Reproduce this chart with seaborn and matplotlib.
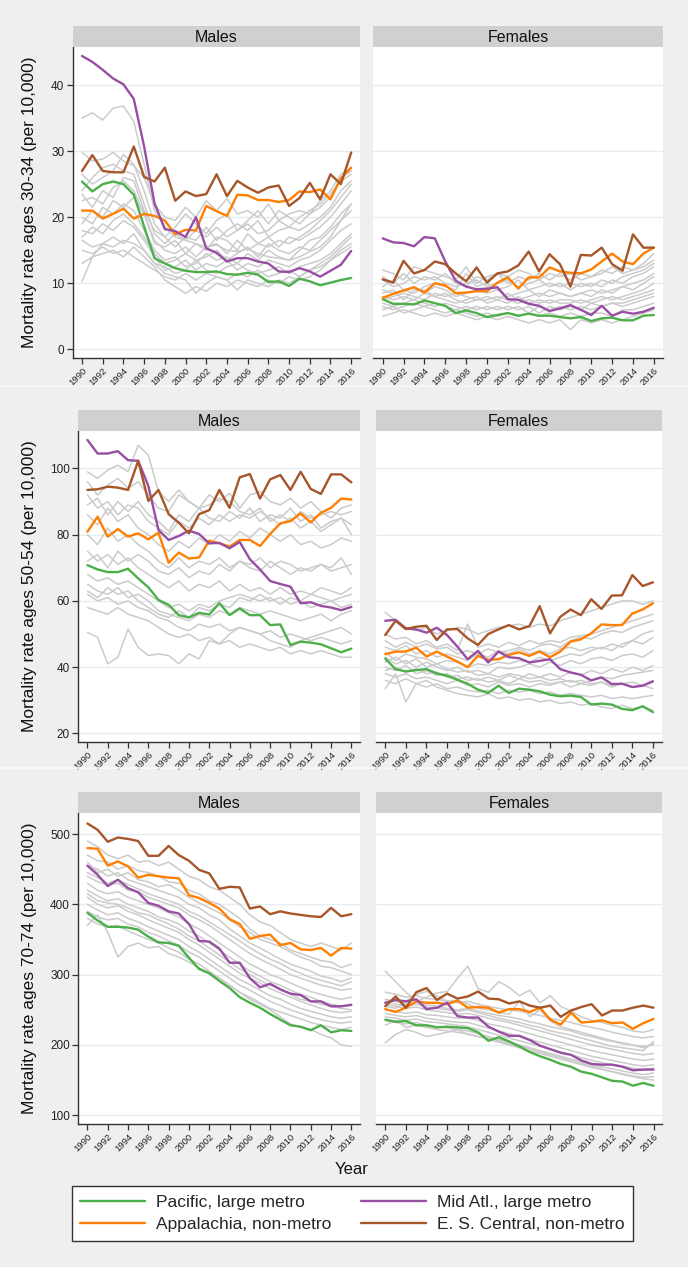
import numpy as np
import pandas as pd
import matplotlib
matplotlib.use("Agg")
import matplotlib.pyplot as plt
from matplotlib.lines import Line2D
import seaborn as sns

# === Data ===
years = list(range(1990, 2017))
regions = ["Pacific, large metro", "Appalachia, non-metro",
           "Mid Atl., large metro", "E. S. Central, non-metro"]
colors = ["#4daf4a", "#ff7f00", "#984ea3", "#a65628"]

# ages 30-34, males
m30_pacific = [25.4, 23.9, 25.0, 25.4, 25.0, 23.4, 18.6, 13.8, 13.0, 12.3, 11.9, 11.7, 11.7, 11.8, 11.4, 11.3, 11.6, 11.3, 10.2, 10.3, 9.6, 10.7, 10.3, 9.7, 10.1, 10.5, 10.8]
m30_appal = [21.0, 21.0, 19.8, 20.5, 21.3, 19.8, 20.5, 20.2, 19.5, 17.4, 18.1, 18.0, 21.7, 20.9, 20.2, 23.4, 23.3, 22.6, 22.6, 22.3, 22.6, 23.9, 23.8, 24.2, 22.7, 25.9, 27.5]
m30_midatl = [44.4, 43.5, 42.3, 41.0, 40.1, 37.9, 30.7, 22.1, 18.2, 17.9, 17.0, 20.0, 15.3, 14.6, 13.3, 13.8, 13.8, 13.3, 13.0, 11.8, 11.7, 12.3, 11.8, 11.0, 11.9, 12.8, 14.9]
m30_escent = [27.0, 29.4, 27.0, 26.8, 26.8, 30.7, 26.1, 25.4, 27.5, 22.5, 23.9, 23.2, 23.5, 26.5, 23.2, 25.5, 24.5, 23.7, 24.5, 24.8, 21.7, 22.9, 25.2, 22.7, 26.5, 25.0, 29.8]
m30_other = [
    [35.0, 35.8, 34.7, 36.5, 36.8, 34.5, 28.0, 21.0, 18.5, 17.0, 16.5, 16.0, 15.5, 15.8, 15.0, 14.8, 15.2, 14.5, 14.0, 13.8, 13.5, 14.0, 14.8, 15.5, 17.0, 19.5, 22.0],
    [29.8, 28.5, 28.8, 29.8, 28.5, 27.8, 26.0, 22.0, 20.0, 19.5, 21.5, 20.0, 22.5, 21.0, 22.8, 20.5, 21.0, 20.0, 22.0, 19.5, 20.5, 21.0, 20.5, 22.5, 24.0, 26.5, 27.5],
    [24.0, 26.0, 27.5, 28.0, 27.0, 26.5, 22.0, 17.5, 16.0, 17.5, 16.5, 18.0, 17.0, 18.5, 17.0, 18.0, 19.0, 17.5, 18.0, 19.5, 18.5, 20.0, 21.0, 22.0, 23.5, 25.5, 26.5],
    [22.5, 23.0, 22.0, 24.5, 25.5, 24.0, 20.5, 16.5, 15.0, 14.5, 15.5, 14.0, 15.5, 16.0, 14.5, 16.5, 15.0, 16.0, 15.5, 16.5, 16.0, 17.0, 18.0, 19.5, 21.0, 23.0, 25.0],
    [20.0, 19.0, 21.5, 20.5, 22.0, 21.0, 18.0, 15.0, 13.5, 14.0, 12.5, 13.0, 14.5, 13.5, 14.0, 13.0, 14.5, 13.5, 15.0, 14.0, 13.5, 15.0, 16.5, 17.0, 18.5, 20.5, 22.0],
    [18.0, 17.5, 19.0, 18.0, 19.5, 18.5, 16.5, 14.0, 12.0, 12.5, 13.5, 12.0, 13.0, 12.5, 13.5, 12.0, 13.0, 12.5, 13.5, 13.0, 12.5, 13.5, 14.0, 15.0, 16.5, 18.0, 19.0],
    [16.5, 15.5, 16.0, 17.0, 16.0, 17.5, 15.0, 13.0, 12.5, 11.5, 12.0, 13.5, 12.0, 11.5, 12.5, 13.0, 12.0, 11.5, 12.0, 12.5, 11.5, 12.5, 13.0, 13.5, 14.5, 16.0, 17.5],
    [15.0, 14.5, 15.5, 14.5, 15.0, 14.0, 13.0, 12.0, 11.0, 10.5, 11.5, 10.5, 11.5, 11.0, 10.5, 11.5, 11.0, 12.0, 11.0, 11.5, 12.0, 11.0, 12.0, 12.5, 13.5, 15.0, 16.0],
    [13.0, 14.0, 14.5, 15.0, 14.0, 15.5, 14.0, 12.5, 10.5, 9.5, 8.5, 9.5, 8.8, 10.0, 9.5, 10.5, 10.0, 9.5, 10.5, 10.0, 11.0, 10.5, 11.0, 12.0, 13.5, 14.5, 15.5],
    [10.3, 14.0, 16.0, 15.5, 16.5, 16.0, 15.0, 13.0, 11.5, 11.0, 10.5, 8.5, 10.0, 11.0, 10.5, 9.0, 10.5, 10.0, 9.5, 10.5, 10.0, 11.0, 12.0, 13.0, 14.0, 15.5, 17.0],
    [26.5, 25.0, 26.0, 27.0, 29.5, 28.0, 24.0, 19.0, 17.0, 18.5, 20.5, 19.0, 17.5, 19.5, 20.5, 18.0, 19.5, 21.0, 19.0, 21.0, 20.0, 19.0, 20.5, 21.5, 23.0, 26.0, 27.0],
    [19.0, 21.0, 20.0, 22.5, 21.5, 23.0, 20.5, 16.0, 15.5, 16.5, 14.5, 16.0, 15.0, 17.0, 16.5, 15.0, 17.5, 16.0, 17.0, 15.5, 17.0, 16.5, 17.5, 18.5, 20.0, 22.0, 24.0],
    [17.0, 18.5, 17.5, 19.5, 20.5, 19.0, 17.0, 14.5, 13.0, 13.5, 14.5, 13.5, 14.0, 15.0, 13.5, 14.5, 15.5, 14.0, 16.0, 15.0, 14.5, 15.5, 15.0, 16.5, 18.0, 19.5, 21.0],
    [23.5, 21.5, 24.0, 23.0, 26.0, 25.5, 21.0, 18.0, 17.0, 15.5, 17.0, 16.5, 18.5, 16.5, 18.0, 19.0, 18.0, 19.5, 17.0, 18.0, 18.5, 18.0, 19.0, 20.0, 21.5, 24.0, 25.5],
]

# ages 30-34, females
f30_pacific = [7.6, 6.9, 6.9, 6.8, 7.4, 7.0, 6.6, 5.5, 5.9, 5.5, 4.9, 5.2, 5.5, 5.1, 5.4, 5.1, 5.1, 4.9, 4.7, 4.9, 4.3, 4.7, 4.8, 4.4, 4.4, 5.1, 5.2]
f30_appal = [7.8, 8.4, 8.9, 9.4, 8.6, 10.0, 9.7, 8.5, 8.6, 8.8, 8.8, 10.1, 10.9, 9.2, 10.9, 10.9, 12.4, 11.8, 11.6, 11.5, 12.1, 13.3, 14.5, 13.3, 12.9, 14.5, 15.4]
f30_midatl = [16.8, 16.2, 16.1, 15.6, 17.0, 16.8, 13.3, 10.4, 9.5, 9.1, 9.2, 9.4, 7.6, 7.5, 6.9, 6.6, 5.8, 6.2, 6.7, 6.0, 5.2, 6.6, 5.1, 5.7, 5.4, 5.7, 6.3]
f30_escent = [10.6, 10.1, 13.4, 11.5, 12.0, 13.3, 12.9, 11.5, 10.3, 12.4, 10.1, 11.5, 11.8, 12.7, 14.8, 11.8, 14.4, 12.9, 9.5, 14.3, 14.2, 15.4, 12.9, 11.9, 17.4, 15.4, 15.4]
f30_other = [
    [12.0, 11.5, 10.5, 12.5, 12.0, 11.5, 11.0, 10.5, 12.5, 10.0, 11.0, 11.5, 11.0, 12.0, 11.5, 10.5, 11.5, 11.0, 11.5, 10.5, 11.0, 12.0, 11.5, 12.5, 12.0, 13.0, 14.5],
    [10.5, 9.5, 10.0, 11.0, 10.5, 11.0, 10.0, 9.5, 10.0, 10.5, 9.5, 10.0, 10.5, 9.5, 10.0, 10.5, 9.5, 10.0, 9.0, 10.0, 9.5, 10.5, 10.0, 11.0, 11.5, 12.0, 13.0],
    [9.0, 8.5, 9.0, 9.5, 8.5, 9.5, 9.0, 8.0, 8.5, 9.0, 8.5, 9.0, 8.0, 8.5, 9.0, 8.0, 9.0, 8.5, 8.0, 8.5, 9.0, 8.5, 9.0, 9.5, 10.0, 10.5, 11.5],
    [8.0, 7.5, 8.0, 7.5, 8.5, 8.0, 7.5, 7.0, 7.5, 8.0, 7.0, 7.5, 7.0, 8.0, 7.0, 7.5, 7.0, 7.5, 7.5, 7.0, 7.5, 8.0, 7.5, 8.0, 8.5, 9.0, 10.0],
    [7.0, 6.5, 7.0, 7.5, 7.0, 6.5, 7.0, 6.5, 6.0, 6.5, 6.0, 6.5, 6.0, 6.5, 5.5, 6.5, 6.0, 6.5, 6.0, 6.5, 6.0, 6.5, 7.0, 7.0, 7.5, 8.0, 8.5],
    [6.0, 6.5, 5.5, 6.0, 6.5, 6.0, 5.5, 6.0, 5.5, 5.0, 5.5, 5.0, 5.5, 5.0, 5.5, 5.0, 5.5, 5.0, 5.5, 5.0, 5.5, 5.5, 5.0, 6.0, 6.0, 6.5, 7.0],
    [5.0, 5.5, 6.0, 5.5, 5.0, 5.5, 5.0, 5.5, 5.0, 4.5, 5.0, 4.5, 5.0, 4.5, 4.0, 4.5, 4.0, 4.5, 3.0, 4.5, 4.0, 4.5, 4.0, 4.5, 5.0, 5.5, 6.0],
    [9.5, 10.5, 9.0, 8.5, 9.5, 10.0, 9.5, 9.0, 11.5, 9.5, 10.0, 9.0, 9.5, 10.5, 9.0, 9.5, 10.0, 9.5, 10.0, 9.5, 10.0, 9.5, 10.5, 10.0, 11.0, 11.5, 12.5],
    [7.5, 8.0, 8.5, 8.0, 7.5, 8.5, 8.0, 8.5, 8.0, 7.5, 8.0, 7.5, 8.5, 7.5, 8.0, 8.5, 8.0, 8.5, 8.0, 8.5, 8.0, 9.0, 8.5, 9.5, 9.0, 10.0, 11.0],
    [6.5, 6.0, 6.5, 7.0, 6.5, 7.0, 6.5, 6.0, 6.5, 6.0, 6.5, 6.0, 6.5, 6.0, 6.5, 5.5, 6.5, 6.0, 6.5, 6.0, 7.0, 6.5, 7.0, 6.5, 7.0, 7.5, 8.0],
    [11.0, 10.0, 11.5, 10.0, 11.0, 10.5, 11.5, 10.0, 9.5, 11.0, 10.5, 11.5, 10.0, 11.0, 10.5, 11.5, 10.5, 11.5, 10.5, 11.5, 11.0, 11.5, 12.5, 11.5, 12.0, 12.5, 13.5],
    [8.5, 9.0, 7.5, 9.0, 9.0, 8.0, 8.5, 7.5, 7.0, 7.5, 7.5, 8.0, 7.5, 7.0, 7.5, 7.0, 7.5, 7.0, 7.0, 7.5, 7.0, 7.5, 8.0, 7.5, 8.0, 8.5, 9.0],
]

# ages 50-54, males
m50_pacific = [70.8, 69.5, 68.7, 68.7, 69.7, 66.8, 64.1, 60.3, 58.8, 55.7, 55.0, 56.4, 55.9, 59.3, 55.7, 57.7, 55.7, 55.7, 52.7, 52.9, 46.7, 47.7, 47.4, 46.9, 45.7, 44.5, 45.6]
m50_appal = [80.9, 85.4, 79.4, 81.7, 79.4, 80.4, 78.6, 80.6, 71.5, 74.6, 72.8, 73.1, 78.2, 77.4, 76.4, 78.4, 78.4, 76.6, 80.2, 83.4, 84.1, 86.4, 83.7, 86.6, 88.1, 90.9, 90.6]
m50_midatl = [108.6, 104.5, 104.5, 105.2, 102.5, 102.3, 94.7, 81.4, 78.4, 79.6, 81.2, 80.2, 77.4, 77.5, 75.9, 77.8, 72.6, 69.5, 66.0, 65.1, 64.3, 59.3, 59.6, 58.5, 58.0, 57.2, 58.2]
m50_escent = [93.5, 93.7, 94.5, 94.2, 93.5, 102.3, 90.2, 93.5, 86.2, 83.6, 80.4, 86.2, 87.4, 93.5, 88.1, 97.3, 98.3, 90.9, 96.7, 98.0, 93.5, 99.0, 93.8, 92.3, 98.2, 98.2, 95.8]
m50_other = [
    [99.0, 97.0, 99.5, 101.0, 99.0, 107.0, 104.0, 93.0, 90.0, 93.5, 90.0, 88.0, 92.0, 90.0, 92.5, 88.0, 92.0, 93.0, 90.0, 89.0, 91.0, 88.0, 90.0, 87.0, 85.0, 88.0, 89.0],
    [92.0, 88.0, 90.0, 86.0, 89.0, 88.0, 84.0, 82.0, 80.0, 84.0, 82.0, 85.0, 83.0, 86.0, 84.0, 86.0, 85.0, 87.0, 85.0, 83.0, 85.0, 82.0, 84.0, 81.0, 83.0, 85.0, 80.0],
    [86.0, 83.0, 88.0, 84.0, 86.0, 82.0, 80.0, 77.0, 75.0, 78.0, 76.0, 79.0, 77.0, 80.0, 78.0, 81.0, 79.0, 82.0, 80.0, 78.0, 80.0, 77.0, 78.0, 76.0, 77.0, 79.0, 78.0],
    [80.0, 77.0, 82.0, 78.0, 80.0, 77.0, 75.0, 72.0, 70.0, 73.0, 70.0, 72.0, 71.0, 73.0, 70.0, 72.0, 71.0, 73.0, 70.0, 72.0, 71.0, 69.0, 70.0, 71.0, 69.0, 70.0, 71.0],
    [75.0, 72.0, 74.0, 71.0, 73.0, 70.0, 68.0, 66.0, 64.0, 66.0, 63.0, 65.0, 64.0, 66.0, 63.0, 65.0, 63.0, 64.0, 62.0, 64.0, 62.0, 63.0, 62.0, 64.0, 63.0, 62.0, 64.0],
    [68.0, 66.0, 67.0, 65.0, 66.0, 64.0, 62.0, 60.0, 58.0, 59.0, 57.0, 59.0, 58.0, 60.0, 61.0, 62.0, 61.0, 60.0, 61.0, 59.0, 61.0, 60.0, 62.0, 61.0, 60.0, 61.0, 62.0],
    [65.0, 63.0, 62.0, 64.0, 61.0, 62.0, 60.0, 57.0, 56.0, 55.0, 54.0, 56.0, 55.0, 57.0, 56.0, 58.0, 57.0, 56.0, 57.0, 56.0, 55.0, 54.0, 55.0, 56.0, 54.0, 56.0, 57.0],
    [62.0, 60.0, 61.0, 59.0, 60.0, 58.0, 57.0, 55.0, 54.0, 52.0, 51.0, 53.0, 52.0, 53.0, 51.0, 52.0, 51.0, 50.0, 51.0, 49.0, 50.0, 49.0, 48.0, 49.0, 48.0, 47.0, 48.0],
    [58.0, 57.0, 56.0, 58.0, 56.0, 55.0, 54.0, 52.0, 50.0, 49.0, 50.0, 48.0, 49.0, 47.0, 48.0, 46.0, 47.0, 46.0, 45.0, 46.0, 44.0, 45.0, 44.0, 45.0, 44.0, 43.0, 43.0],
    [50.5, 49.0, 41.0, 43.0, 51.5, 46.0, 43.5, 44.0, 43.5, 41.0, 44.0, 42.5, 48.0, 47.0, 50.0, 52.0, 51.0, 50.0, 48.0, 47.0, 46.0, 48.0, 49.0, 50.0, 51.0, 52.0, 50.0],
    [96.0, 92.0, 95.0, 97.0, 94.0, 96.0, 92.0, 88.0, 87.0, 92.0, 90.0, 88.0, 89.0, 91.0, 90.0, 87.0, 86.0, 88.0, 84.0, 86.0, 84.0, 87.0, 85.0, 86.0, 87.0, 86.0, 87.0],
    [72.0, 74.0, 70.0, 75.0, 72.0, 74.0, 72.0, 69.0, 68.0, 70.0, 67.0, 69.0, 68.0, 71.0, 69.0, 72.0, 70.0, 69.0, 72.0, 70.0, 68.0, 70.0, 69.0, 71.0, 70.0, 73.0, 68.0],
    [89.0, 91.0, 86.0, 90.0, 87.0, 90.0, 86.0, 84.0, 81.0, 86.0, 84.0, 88.0, 85.0, 84.0, 87.0, 85.0, 88.0, 84.0, 86.0, 85.0, 88.0, 84.0, 86.0, 82.0, 84.0, 85.0, 83.0],
    [63.0, 61.0, 64.0, 62.0, 63.0, 60.0, 58.0, 56.0, 55.0, 57.0, 55.0, 58.0, 57.0, 59.0, 58.0, 61.0, 60.0, 62.0, 60.0, 61.0, 59.0, 60.0, 58.0, 59.0, 60.0, 58.0, 59.0],
]

# ages 50-54, females
f50_pacific = [42.6, 39.4, 38.7, 39.1, 39.4, 38.1, 37.4, 36.2, 35.0, 33.2, 32.2, 34.4, 32.2, 33.5, 33.2, 32.7, 31.7, 31.2, 31.4, 31.0, 28.7, 29.0, 28.7, 27.4, 27.0, 28.2, 26.4]
f50_appal = [43.9, 44.7, 44.7, 45.9, 43.2, 44.7, 43.2, 41.7, 40.0, 43.4, 42.2, 42.4, 43.7, 44.5, 43.4, 44.7, 43.0, 44.7, 47.7, 48.4, 50.2, 52.9, 52.7, 52.7, 56.2, 57.4, 59.3]
f50_midatl = [54.0, 54.3, 51.7, 51.4, 50.4, 51.9, 49.7, 46.2, 42.4, 44.9, 41.4, 44.7, 43.0, 42.7, 41.4, 41.9, 42.4, 39.4, 38.4, 37.7, 36.0, 36.9, 34.9, 35.0, 34.0, 34.4, 35.7]
f50_escent = [49.7, 54.0, 51.5, 52.2, 52.5, 48.2, 51.4, 51.5, 48.7, 46.7, 50.0, 51.4, 52.7, 51.4, 52.4, 58.4, 50.2, 55.2, 57.4, 55.7, 60.5, 57.6, 61.6, 61.7, 67.8, 64.5, 65.6]
f50_other = [
    [56.5, 54.0, 52.0, 51.0, 52.0, 50.0, 51.0, 52.0, 51.5, 50.0, 51.0, 52.0, 52.5, 53.0, 52.0, 53.0, 52.5, 54.0, 55.0, 56.0, 57.0, 58.0, 59.0, 60.0, 60.0, 59.0, 60.0],
    [50.0, 48.5, 49.0, 47.0, 48.0, 46.0, 47.0, 45.0, 53.0, 46.0, 47.0, 46.0, 47.5, 46.5, 48.0, 47.0, 48.0, 47.5, 49.0, 49.5, 50.0, 51.0, 52.0, 53.0, 54.0, 55.0, 56.0],
    [46.0, 45.0, 46.5, 44.0, 45.0, 43.0, 44.0, 43.0, 42.0, 44.0, 43.0, 45.0, 44.0, 45.5, 44.0, 45.0, 44.0, 45.5, 46.0, 45.0, 46.0, 45.5, 47.0, 46.0, 48.0, 47.0, 49.0],
    [43.0, 41.0, 42.0, 40.0, 41.5, 40.0, 39.0, 40.0, 38.5, 39.0, 38.0, 40.0, 39.5, 40.0, 41.0, 40.0, 41.5, 40.5, 42.0, 41.0, 42.5, 43.0, 42.0, 43.5, 44.0, 43.0, 45.0],
    [40.0, 39.0, 40.5, 38.0, 39.0, 37.5, 38.0, 36.5, 37.0, 36.0, 37.0, 36.0, 37.5, 36.5, 38.0, 37.0, 38.0, 37.0, 38.5, 37.5, 39.0, 38.0, 39.5, 38.5, 40.0, 39.0, 40.5],
    [38.0, 37.0, 38.0, 36.5, 37.0, 36.0, 35.0, 36.0, 34.5, 35.0, 34.0, 35.5, 34.5, 35.0, 34.0, 35.0, 34.5, 35.5, 34.0, 35.0, 34.5, 35.5, 34.0, 35.0, 35.5, 34.5, 36.0],
    [36.0, 35.0, 36.5, 35.0, 34.0, 35.0, 33.5, 34.0, 33.0, 32.5, 33.0, 32.0, 33.0, 32.5, 33.0, 32.0, 32.5, 31.5, 32.0, 31.5, 31.0, 31.5, 30.5, 31.0, 30.5, 31.0, 31.5],
    [33.5, 38.0, 29.5, 35.0, 36.0, 34.0, 33.0, 32.0, 31.5, 31.0, 32.0, 30.5, 31.0, 30.0, 30.5, 29.5, 30.0, 29.0, 29.5, 28.5, 29.0, 28.0, 27.5, 28.5, 27.5, 28.0, 27.0],
    [41.5, 43.0, 41.0, 42.5, 40.0, 41.0, 39.5, 38.5, 39.0, 37.5, 38.0, 37.0, 38.0, 37.5, 36.5, 37.0, 36.0, 36.5, 35.5, 36.0, 35.0, 35.5, 34.5, 35.0, 34.0, 34.5, 33.5],
    [44.5, 42.0, 44.0, 43.0, 42.5, 41.0, 42.0, 41.5, 40.0, 41.0, 40.5, 41.5, 41.0, 42.0, 41.5, 43.0, 42.0, 43.0, 44.0, 43.5, 45.0, 46.0, 45.0, 47.0, 48.0, 50.0, 51.0],
    [39.0, 40.0, 38.5, 39.5, 38.0, 38.5, 37.0, 37.5, 36.0, 36.5, 35.5, 36.0, 35.0, 36.5, 35.5, 36.0, 35.0, 35.5, 36.0, 35.0, 36.0, 37.0, 36.5, 37.5, 38.0, 38.5, 39.0],
    [48.0, 46.0, 47.5, 46.0, 47.0, 45.5, 46.0, 44.0, 45.0, 44.0, 45.5, 44.5, 45.0, 46.0, 45.0, 46.5, 47.0, 46.0, 48.0, 49.0, 48.5, 50.0, 51.0, 50.5, 52.0, 53.0, 54.0],
]

# ages 70-74, males
m70_pacific = [388, 377, 368, 368, 367, 364, 354, 346, 345, 341, 324, 308, 302, 291, 281, 268, 260, 253, 244, 236, 228, 226, 221, 228, 218, 221, 220]
m70_appal = [480, 479, 455, 461, 454, 438, 442, 440, 438, 437, 413, 409, 402, 394, 379, 372, 351, 355, 357, 342, 345, 336, 335, 338, 327, 338, 337]
m70_midatl = [455, 442, 426, 435, 423, 417, 402, 398, 390, 387, 372, 348, 347, 337, 317, 317, 295, 282, 287, 279, 273, 271, 262, 262, 255, 255, 257]
m70_escent = [515, 506, 489, 495, 493, 490, 469, 469, 483, 470, 462, 449, 444, 422, 425, 424, 394, 397, 386, 390, 387, 385, 383, 382, 395, 383, 386]
m70_other = [
    [490, 482, 470, 465, 470, 460, 462, 455, 460, 450, 440, 435, 425, 420, 410, 400, 385, 375, 370, 360, 350, 345, 340, 345, 340, 335, 345],
    [470, 462, 460, 450, 455, 448, 445, 440, 432, 430, 420, 415, 405, 400, 390, 380, 365, 355, 350, 345, 335, 330, 325, 320, 318, 310, 315],
    [455, 450, 440, 445, 435, 430, 425, 420, 415, 410, 400, 395, 385, 378, 365, 355, 345, 338, 330, 322, 315, 310, 305, 298, 295, 290, 295],
    [440, 432, 428, 430, 420, 418, 410, 405, 400, 395, 385, 378, 370, 360, 350, 340, 330, 322, 315, 308, 300, 295, 290, 285, 282, 278, 280],
    [430, 420, 415, 418, 410, 405, 400, 395, 388, 382, 372, 365, 355, 345, 335, 325, 315, 308, 300, 295, 288, 282, 276, 272, 268, 265, 268],
    [420, 412, 405, 408, 400, 395, 390, 382, 378, 372, 362, 355, 345, 335, 325, 315, 305, 298, 290, 285, 278, 272, 268, 262, 258, 255, 258],
    [410, 400, 395, 398, 390, 385, 378, 372, 366, 360, 350, 342, 332, 322, 312, 302, 295, 288, 280, 274, 268, 262, 257, 252, 248, 246, 248],
    [400, 392, 385, 388, 380, 375, 368, 362, 356, 350, 340, 332, 322, 312, 302, 293, 286, 278, 270, 265, 258, 252, 248, 244, 240, 238, 240],
    [390, 382, 378, 380, 372, 368, 360, 355, 348, 342, 332, 325, 315, 305, 295, 285, 278, 270, 262, 256, 250, 245, 240, 236, 233, 231, 233],
    [370, 385, 360, 325, 340, 345, 338, 340, 330, 325, 318, 310, 302, 295, 285, 275, 265, 258, 250, 240, 230, 225, 222, 215, 210, 200, 198],
    [380, 372, 368, 370, 362, 356, 350, 345, 338, 332, 322, 315, 305, 295, 285, 275, 268, 260, 252, 247, 242, 237, 232, 228, 225, 222, 225],
    [460, 445, 450, 440, 445, 435, 432, 425, 428, 420, 410, 402, 395, 388, 378, 368, 360, 350, 345, 340, 332, 325, 320, 312, 310, 305, 300],
    [445, 438, 430, 435, 428, 422, 415, 410, 405, 400, 390, 384, 375, 366, 357, 348, 338, 330, 322, 316, 308, 302, 296, 292, 288, 284, 290],
    [415, 405, 402, 400, 395, 388, 385, 378, 372, 365, 355, 348, 338, 328, 318, 308, 300, 292, 285, 280, 272, 265, 262, 258, 255, 252, 250],
]

# ages 70-74, females
f70_pacific = [236, 233, 234, 228, 228, 225, 226, 225, 224, 218, 206, 211, 205, 198, 190, 184, 179, 173, 169, 162, 159, 154, 149, 148, 142, 146, 142]
f70_appal = [251, 247, 253, 262, 260, 260, 258, 263, 253, 254, 253, 246, 251, 251, 247, 253, 236, 229, 246, 232, 233, 235, 231, 232, 223, 231, 237]
f70_midatl = [260, 264, 262, 265, 251, 253, 260, 241, 239, 239, 226, 219, 213, 213, 207, 199, 194, 189, 186, 178, 173, 172, 172, 169, 164, 165, 165]
f70_escent = [255, 269, 253, 275, 281, 264, 273, 266, 269, 276, 266, 265, 259, 262, 256, 253, 256, 240, 249, 254, 258, 242, 249, 249, 253, 256, 253]
f70_other = [
    [305, 290, 275, 262, 268, 274, 276, 295, 312, 280, 275, 290, 282, 270, 278, 260, 270, 255, 248, 240, 235, 232, 228, 225, 220, 218, 222],
    [275, 272, 268, 270, 266, 265, 262, 260, 262, 258, 255, 252, 250, 248, 245, 242, 238, 235, 232, 228, 225, 222, 218, 215, 212, 210, 212],
    [265, 262, 258, 260, 257, 255, 252, 250, 252, 248, 245, 242, 240, 237, 233, 230, 226, 223, 220, 215, 212, 208, 205, 202, 200, 198, 200],
    [258, 255, 252, 254, 250, 248, 246, 244, 245, 242, 238, 235, 232, 228, 224, 220, 216, 212, 208, 204, 200, 197, 194, 191, 188, 186, 188],
    [250, 248, 245, 247, 243, 242, 240, 238, 238, 235, 230, 227, 224, 220, 216, 212, 208, 204, 200, 196, 192, 189, 186, 183, 180, 178, 180],
    [245, 242, 240, 242, 238, 236, 234, 232, 232, 228, 224, 220, 216, 212, 208, 204, 200, 196, 192, 188, 184, 181, 178, 175, 172, 170, 172],
    [240, 238, 235, 237, 233, 232, 230, 228, 226, 222, 218, 214, 210, 206, 202, 198, 194, 190, 186, 182, 178, 175, 172, 170, 167, 165, 167],
    [235, 232, 230, 232, 228, 226, 224, 222, 220, 216, 212, 208, 204, 200, 196, 192, 188, 184, 180, 176, 172, 169, 166, 163, 160, 158, 160],
    [203, 215, 222, 218, 212, 215, 218, 222, 215, 212, 210, 206, 202, 198, 195, 190, 186, 182, 178, 174, 170, 166, 162, 158, 155, 152, 150],
    [228, 235, 225, 228, 225, 222, 220, 218, 216, 212, 208, 204, 200, 196, 192, 188, 184, 180, 176, 172, 168, 165, 162, 159, 156, 154, 155],
    [255, 252, 262, 272, 276, 270, 262, 264, 258, 252, 250, 246, 244, 262, 240, 250, 234, 226, 222, 218, 214, 210, 206, 203, 200, 196, 202],
    [262, 258, 255, 258, 254, 252, 250, 248, 250, 246, 242, 238, 235, 232, 228, 225, 220, 217, 214, 210, 206, 202, 198, 196, 194, 192, 205],
]

age_labels = ["30-34", "50-54", "70-74"]
ylims = [(-1.3, 45.8), (17.4, 111.3), (87.2, 530.3)]
yticks = [[0, 10, 20, 30, 40], [20, 40, 60, 80, 100], [100, 200, 300, 400, 500]]
xticks = list(range(1990, 2017, 2))

# === Style ===
sns.set_style("white")
plt.rcParams['font.family'] = ['Liberation Sans', 'DejaVu Sans']
W, H = 688, 1267
fig = plt.figure(figsize=(W / 100, H / 100), dpi=100, facecolor="#efefef")

def px_axes(l, t, r, b):
    return fig.add_axes([l / W, 1 - b / H, (r - l) / W, (b - t) / H])

# panel boxes in pixels: (left, top, right, bottom) for plot area, strip height 21
rows_px = [
    ((72.7, 46.7, 360, 358), (373.3, 46.7, 662.7, 358)),
    ((78.3, 431, 360, 742), (376, 431, 661.7, 742)),
    ((78.3, 812.7, 360, 1124.3), (376, 812.7, 662.3, 1124.3)),
]

panels = [
    [(m30_other, [m30_pacific, m30_appal, m30_midatl, m30_escent]),
     (f30_other, [f30_pacific, f30_appal, f30_midatl, f30_escent])],
    [(m50_other, [m50_pacific, m50_appal, m50_midatl, m50_escent]),
     (f50_other, [f50_pacific, f50_appal, f50_midatl, f50_escent])],
    [(m70_other, [m70_pacific, m70_appal, m70_midatl, m70_escent]),
     (f70_other, [f70_pacific, f70_appal, f70_midatl, f70_escent])],
]


def draw_panel(ax, other, highlight, r, is_male):
    grey = pd.DataFrame([(i, y, v) for i, row in enumerate(other) for y, v in zip(years, row)],
                        columns=["unit", "year", "rate"])
    sns.lineplot(data=grey, x="year", y="rate", units="unit", estimator=None,
                 color="#cbcbcb", lw=1.1, ax=ax, legend=False)
    hl = pd.DataFrame([(reg, y, v) for reg, row in zip(regions, highlight) for y, v in zip(years, row)],
                      columns=["region", "year", "rate"])
    sns.lineplot(data=hl, x="year", y="rate", hue="region", hue_order=regions,
                 palette=colors, lw=1.7, ax=ax, legend=False)

    ax.set_xlim(1989.1, 2016.85)
    ax.set_ylim(*ylims[r])
    ax.set_yticks(yticks[r])
    ax.set_xticks(xticks)
    ax.set_xticklabels([str(x) for x in xticks], rotation=45, ha="right",
                       rotation_mode="anchor", fontsize=6.8, color="#222222")
    ax.set_xlabel("")
    ax.set_ylabel("")
    ax.set_facecolor("white")
    ax.grid(axis="y", color="#e4eef0", lw=1.0)
    ax.grid(axis="x", visible=False)
    ax.set_axisbelow(True)
    for s in ["top", "right"]:
        ax.spines[s].set_visible(False)
    ax.spines["bottom"].set_color("#333333")
    ax.spines["bottom"].set_linewidth(1.0)
    ax.tick_params(axis="x", bottom=True, length=4, width=0.9, color="#333333", pad=1.5)
    if is_male:
        ax.spines["left"].set_color("#333333")
        ax.spines["left"].set_linewidth(1.0)
        ax.tick_params(axis="y", left=True, length=4, width=0.9, color="#333333",
                       labelsize=8.5, labelcolor="#222222", pad=2)
    else:
        ax.spines["left"].set_visible(False)
        ax.tick_params(axis="y", left=False, labelleft=False)


for r in range(3):
    for c in range(2):
        l, t, rr, b = rows_px[r][c]
        ax = px_axes(l, t, rr, b)
        other, highlight = panels[r][c]
        draw_panel(ax, other, highlight, r, c == 0)
        # strip title
        sax = px_axes(l, t - 21, rr, t)
        sax.set_facecolor("#d0d0d0")
        sax.set_xticks([])
        sax.set_yticks([])
        for s in sax.spines.values():
            s.set_visible(False)
        sax.text(0.5, 0.45, "Males" if c == 0 else "Females", ha="center", va="center",
                 fontsize=11.5, color="#111111", transform=sax.transAxes)
    l, t, rr, b = rows_px[r][0]
    fig.text(30 / W, 1 - ((t + b) / 2) / H, f"Mortality rate ages {age_labels[r]} (per 10,000)",
             rotation=90, ha="center", va="center", fontsize=12.5, color="#111111")

# block separators
for yy in [386, 768]:
    fig.add_artist(Line2D([0, 1], [1 - yy / H] * 2, color="#f8f8f8", lw=1.2))

fig.text(352 / W, 1 - 1170 / H, "Year", ha="center", va="center", fontsize=12, color="#111111")

handles = [Line2D([0], [0], color=col, lw=1.7) for col in colors]
fig.legend(handles, regions, loc="upper left", ncol=2, mode="expand",
           bbox_to_anchor=(71.7 / W, 1 - 1240.7 / H, (633.3 - 71.7) / W, (1240.7 - 1186) / H),
           frameon=True, fancybox=False, edgecolor="#333333", facecolor="white",
           framealpha=1, fontsize=12.5, handlelength=3.7, handletextpad=0.65,
           labelspacing=0.4, borderpad=0.5, borderaxespad=0)

fig.savefig("out.png", dpi=100, facecolor=fig.get_facecolor())
